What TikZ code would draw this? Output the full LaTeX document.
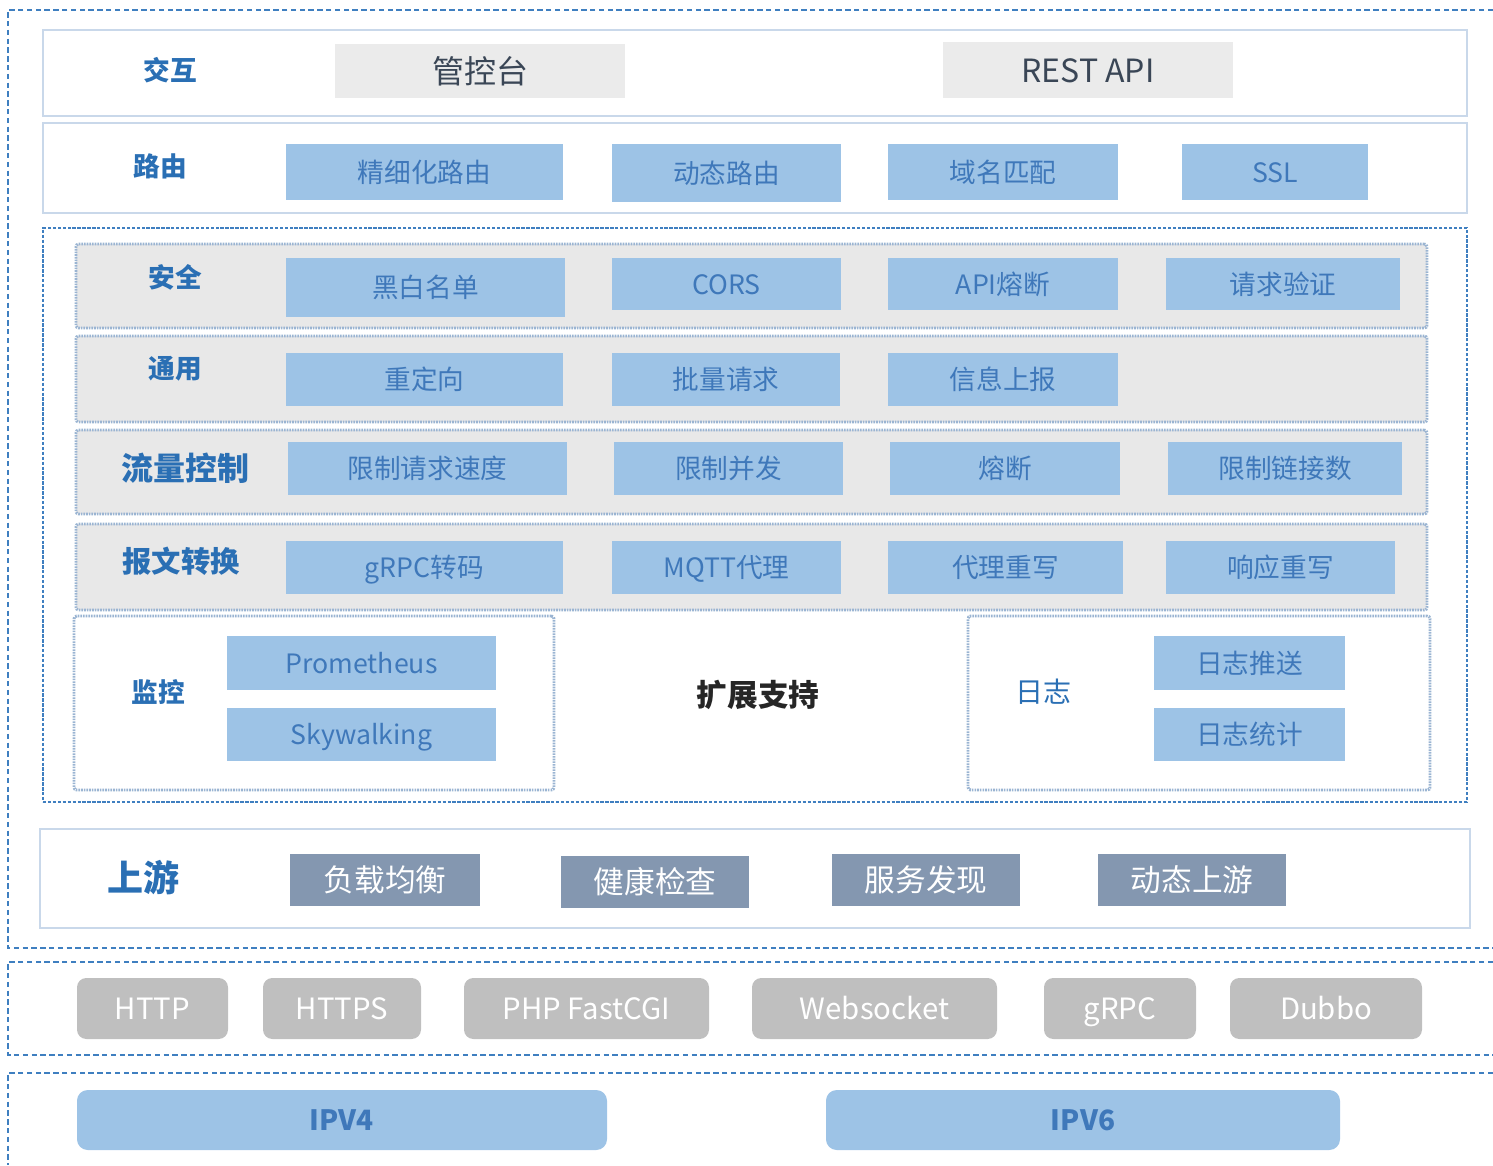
\documentclass[tikz,border=0pt]{standalone}
\usepackage{fontspec}
\setmainfont{Noto Sans CJK SC}
\usetikzlibrary{positioning}
\definecolor{dashblue}{HTML}{3F7FC0}
\definecolor{rowline}{HTML}{C9D8EA}
\definecolor{dotline}{HTML}{9AB4D2}
\definecolor{rowgrey}{HTML}{E8E8E8}
\definecolor{lightbox}{HTML}{9DC3E6}
\definecolor{boxtext}{HTML}{3F78BA}
\definecolor{labelblue}{HTML}{2A6FB4}
\definecolor{ctlgrey}{HTML}{EBEBEB}
\definecolor{darktext}{HTML}{3A4656}
\definecolor{upfill}{HTML}{8497B0}
\definecolor{protofill}{HTML}{BFBFBF}
\tikzset{
  outerdash/.style={draw=dashblue, line width=0.9pt, dash pattern=on 4pt off 2.6pt},
  middash/.style={draw=dashblue, line width=0.8pt, dash pattern=on 2.5pt off 1.2pt},
  plainrow/.style={draw=rowline, line width=2pt, fill=white},
  greyrow/.style={draw=dotline, line width=2.2pt, dash pattern=on 1.2pt off 0.8pt, fill=rowgrey, rounded corners=2pt},
  whitegroup/.style={draw=dotline, line width=2.2pt, dash pattern=on 1.2pt off 0.8pt, fill=white, rounded corners=2pt},
  bluebox/.style={fill=lightbox, text=boxtext, font=\fontsize{20}{24}\selectfont, text height=17.6pt, text depth=2.4pt},
  ctlbox/.style={fill=ctlgrey, text=darktext, font=\fontsize{24}{28}\selectfont, text height=21.1pt, text depth=2.9pt},
  upbox/.style={fill=upfill, text=white, font=\fontsize{23}{27}\selectfont, text height=20.2pt, text depth=2.8pt},
  protobox/.style={fill=protofill, text=white, rounded corners=7pt, font=\fontsize{22}{26}\selectfont, text height=19.4pt, text depth=2.6pt},
  ipbox/.style={fill=lightbox, text=boxtext, rounded corners=8pt, font=\bfseries\fontsize{21}{25}\selectfont, text height=18.5pt, text depth=2.5pt},
  rowlabel/.style={text=labelblue, font=\bfseries\fontsize{20}{24}\selectfont, inner sep=0pt},
}
\newcommand\mybox[7]{%
  \node[#2, inner sep=0pt, outer sep=0pt, minimum width={(#5-#3)*0.75pt}, minimum height={(#6-#4)*0.75pt}]
    (#1) at ({(#3+#5)/2},{(#4+#6)/2}) {#7};}
\begin{document}
\begin{tikzpicture}[x=0.75pt,y=-0.75pt]
\useasboundingbox (0,0) rectangle (1493,1165);
% outer dashed frames
\draw[outerdash] (1493,10) -- (8,10) -- (8,948) -- (1493,948);
\draw[outerdash] (1493,962) -- (8,962) -- (8,1055) -- (1493,1055);
\draw[outerdash] (1493,1073) -- (8,1073) -- (8,1165);

% row 1: interaction
\mybox{rowA}{plainrow}{43}{30}{1467}{116}{}
\node[rowlabel] (lblA) at (170,70) {交互};
\mybox{ctl}{ctlbox}{335}{44}{625}{98}{管控台}
\mybox{rest}{ctlbox}{943}{42}{1233}{98}{REST API}

% row 2: routing
\mybox{rowB}{plainrow}{43}{123}{1467}{213}{}
\node[rowlabel] (lblB) at (160,166) {路由};
\mybox{r1}{bluebox}{286}{144}{563}{200}{精细化路由}
\mybox{r2}{bluebox}{612}{144}{841}{202}{动态路由}
\mybox{r3}{bluebox}{888}{144}{1118}{200}{域名匹配}
\mybox{r4}{bluebox}{1182}{144}{1368}{200}{SSL}

% middle dashed frame
\mybox{midframe}{middash}{43}{228}{1467}{802}{}

% security
\mybox{rowS}{greyrow}{76}{244}{1427}{328}{}
\node[rowlabel] (lblS) at (175,277) {安全};
\mybox{s1}{bluebox}{286}{258}{565}{317}{黑白名单}
\mybox{s2}{bluebox}{612}{258}{841}{310}{CORS}
\mybox{s3}{bluebox}{888}{258}{1118}{310}{API熔断}
\mybox{s4}{bluebox}{1166}{258}{1400}{310}{请求验证}

% general
\mybox{rowG}{greyrow}{76}{336}{1427}{422}{}
\node[rowlabel] (lblG) at (175,369) {通用};
\mybox{g1}{bluebox}{286}{353}{563}{406}{重定向}
\mybox{g2}{bluebox}{612}{353}{840}{406}{批量请求}
\mybox{g3}{bluebox}{888}{353}{1118}{406}{信息上报}

% flow control
\mybox{rowF}{greyrow}{76}{430}{1427}{514}{}
\node[rowlabel, font=\bfseries\fontsize{24}{28}\selectfont] (lblF) at (185,468) {流量控制};
\mybox{f1}{bluebox}{288}{442}{567}{495}{限制请求速度}
\mybox{f2}{bluebox}{614}{442}{843}{495}{限制并发}
\mybox{f3}{bluebox}{890}{442}{1120}{495}{熔断}
\mybox{f4}{bluebox}{1168}{442}{1402}{495}{限制链接数}

% message conversion
\mybox{rowM}{greyrow}{76}{524}{1427}{610}{}
\node[rowlabel, font=\bfseries\fontsize{22}{26}\selectfont] (lblM) at (181,561) {报文转换};
\mybox{m1}{bluebox}{286}{541}{563}{594}{gRPC转码}
\mybox{m2}{bluebox}{612}{541}{841}{594}{MQTT代理}
\mybox{m3}{bluebox}{888}{541}{1123}{594}{代理重写}
\mybox{m4}{bluebox}{1166}{541}{1395}{594}{响应重写}

% monitoring
\mybox{grpMon}{whitegroup}{74}{616}{554}{790}{}
\node[rowlabel] (lblMon) at (158,692) {监控};
\mybox{mon1}{bluebox}{227}{636}{496}{690}{Prometheus}
\mybox{mon2}{bluebox}{227}{708}{496}{761}{Skywalking}

\node[text=black!85, font=\bfseries\fontsize{23}{27}\selectfont, inner sep=0pt] (ext) at (758,695) {扩展支持};

% logs
\mybox{grpLog}{whitegroup}{968}{616}{1430}{790}{}
\node[rowlabel, font=\fontsize{21}{25}\selectfont] (lblLog) at (1043,692) {日志};
\mybox{log1}{bluebox}{1154}{636}{1345}{690}{日志推送}
\mybox{log2}{bluebox}{1154}{708}{1345}{761}{日志统计}

% upstream
\mybox{rowU}{plainrow}{40}{829}{1470}{928}{}
\node[rowlabel, font=\bfseries\fontsize{27}{31}\selectfont] (lblU) at (143,878) {上游};
\mybox{u1}{upbox}{290}{854}{480}{906}{负载均衡}
\mybox{u2}{upbox}{561}{856}{749}{908}{健康检查}
\mybox{u3}{upbox}{832}{854}{1020}{906}{服务发现}
\mybox{u4}{upbox}{1098}{854}{1286}{906}{动态上游}

% protocols
\mybox{p1}{protobox}{77}{978}{228}{1039}{HTTP}
\mybox{p2}{protobox}{263}{978}{421}{1039}{HTTPS}
\mybox{p3}{protobox}{464}{978}{709}{1039}{PHP FastCGI}
\mybox{p4}{protobox}{752}{978}{997}{1039}{Websocket}
\mybox{p5}{protobox}{1044}{978}{1196}{1039}{gRPC}
\mybox{p6}{protobox}{1230}{978}{1422}{1039}{Dubbo}

% IP versions
\mybox{ip4}{ipbox}{77}{1090}{607}{1150}{IPV4}
\mybox{ip6}{ipbox}{826}{1090}{1340}{1150}{IPV6}
\end{tikzpicture}
\end{document}
